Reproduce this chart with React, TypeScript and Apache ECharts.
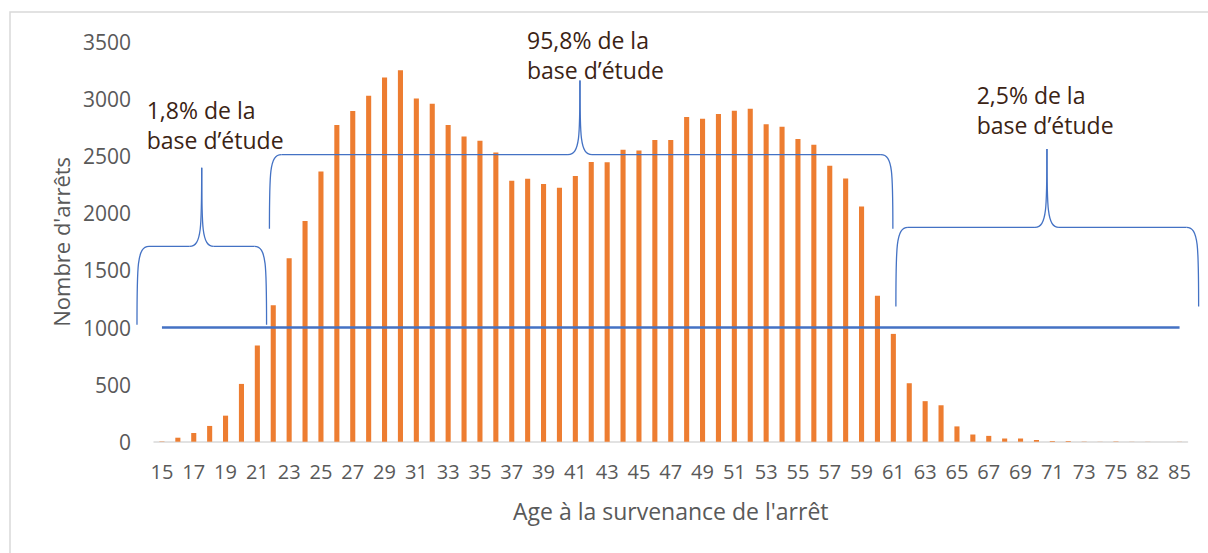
import React, { useEffect, useRef } from "react";
import * as echarts from "echarts";

const ages: string[] = [
  "15","16","17","18","19","20","21","22","23","24","25","26","27","28","29","30",
  "31","32","33","34","35","36","37","38","39","40","41","42","43","44","45","46",
  "47","48","49","50","51","52","53","54","55","56","57","58","59","60","61","62",
  "63","64","65","66","67","68","69","70","71","72","73","74","75","77","82","84","85",
];

const arrets: number[] = [
  3, 35, 76, 138, 228, 506, 842, 1195, 1606, 1932, 2366, 2773, 2895, 3030, 3190, 3252,
  3006, 2960, 2773, 2673, 2635, 2533, 2285, 2302, 2256, 2223, 2326, 2449, 2446, 2557, 2551, 2642,
  2642, 2843, 2828, 2870, 2899, 2916, 2779, 2758, 2650, 2600, 2416, 2305, 2059, 1279, 944, 512,
  355, 319, 134, 63, 51, 28, 28, 15, 6, 6, 2, 1, 3, 1, 1, 0, 1,
];

const seuil = 1000;
const seuilLine: number[] = ages.map(() => seuil);

const yTicks = { min: 0, max: 3500, interval: 500 };

const annotationTexts: string[] = [
  "1,8% de la\nbase d\u2019étude",
  "95,8% de la\nbase d\u2019étude",
  "2,5% de la\nbase d\u2019étude",
];

// brace anchors: category index (fractional) and values
const braces = [
  { left: -1.57, tip: 2.5, right: 6.58, bottom: 1023, mid: 1710, top: 2398, textX: -0.96, textY: 3035 },
  { left: 6.76, tip: 26.29, right: 45.97, bottom: 1865, mid: 2514, top: 3163, textX: 22.96, textY: 3649 },
  { left: 46.16, tip: 55.66, right: 65.2, bottom: 1184, mid: 1877, top: 2564, textX: 51.24, textY: 3163 },
];

const FONT = '"Open Sans", "Noto Sans", sans-serif';
const BLUE = "#4472C4";

export default function App() {
  const ref = useRef<HTMLDivElement>(null);
  useEffect(() => {
    if (!ref.current) return;
    const chart = echarts.init(ref.current, undefined, { renderer: "svg" });
    chart.setOption({
      animation: false,
      backgroundColor: "#ffffff",
      grid: { left: 154, right: 20.5, top: 42, bottom: 111.3, containLabel: false },
      xAxis: {
        type: "category",
        data: ages,
        boundaryGap: true,
        name: "Age à la survenance de l'arrêt",
        nameLocation: "middle",
        nameGap: 58,
        nameTextStyle: { color: "#595959", fontSize: 23, fontFamily: FONT },
        axisLine: { show: true, lineStyle: { color: "#d9d9d9", width: 1.5 } },
        axisTick: { show: false },
        axisLabel: { interval: 1, color: "#595959", fontSize: 20, fontFamily: FONT, margin: 20 },
        splitLine: { show: false },
      },
      yAxis: {
        type: "value",
        min: yTicks.min,
        max: yTicks.max,
        interval: yTicks.interval,
        name: "Nombre d'arrêts",
        nameLocation: "middle",
        nameGap: 80,
        nameRotate: 90,
        nameTextStyle: { color: "#595959", fontSize: 22, fontFamily: FONT },
        axisLine: { show: false },
        axisTick: { show: false },
        axisLabel: {
          color: "#595959",
          fontSize: 21,
          fontFamily: FONT,
          margin: 23,
          formatter: (v: number) => String(v),
        },
        splitLine: { show: false },
      },
      series: [
        {
          type: "bar",
          data: arrets,
          barWidth: "32%",
          itemStyle: { color: "#ED7D31" },
          z: 2,
        },
        {
          type: "line",
          data: seuilLine,
          showSymbol: false,
          symbol: "none",
          lineStyle: { color: BLUE, width: 2.5 },
          z: 3,
        },
      ],
    });

    const x0 = chart.convertToPixel({ xAxisIndex: 0 }, ages[0]) as number;
    const x1 = chart.convertToPixel({ xAxisIndex: 0 }, ages[1]) as number;
    const step = x1 - x0;
    const px = (i: number) => x0 + i * step;
    const py = (v: number) => chart.convertToPixel({ yAxisIndex: 0 }, v) as number;

    const elements: any[] = [
      {
        type: "rect",
        shape: { x: 10, y: 12, width: 1300, height: 700 },
        style: { fill: "none", stroke: "#d9d9d9", lineWidth: 1.5 },
        silent: true,
        z: 0,
      },
    ];
    const r = 12;
    const ls = { stroke: BLUE, lineWidth: 1.3, fill: "none" };
    braces.forEach((b, k) => {
      const xL = px(b.left);
      const xM = px(b.tip);
      const xR = px(b.right);
      const yB = py(b.bottom);
      const yH = py(b.mid);
      const yT = py(b.top);
      const h1 = yB - yH;
      const h2 = yH - yT;
      elements.push(
        { type: "bezierCurve", shape: { x1: xL, y1: yB, cpx1: xL, cpy1: yH + h1 * 0.25, cpx2: xL, cpy2: yH, x2: xL + r, y2: yH }, style: ls, z: 10 },
        { type: "line", shape: { x1: xL + r, y1: yH, x2: xM - r, y2: yH }, style: ls, z: 10 },
        { type: "bezierCurve", shape: { x1: xM - r, y1: yH, cpx1: xM, cpy1: yH, cpx2: xM, cpy2: yH - h2 * 0.25, x2: xM, y2: yT }, style: ls, z: 10 },
        { type: "bezierCurve", shape: { x1: xM, y1: yT, cpx1: xM, cpy1: yH - h2 * 0.25, cpx2: xM, cpy2: yH, x2: xM + r, y2: yH }, style: ls, z: 10 },
        { type: "line", shape: { x1: xM + r, y1: yH, x2: xR - r, y2: yH }, style: ls, z: 10 },
        { type: "bezierCurve", shape: { x1: xR - r, y1: yH, cpx1: xR, cpy1: yH, cpx2: xR, cpy2: yH + h1 * 0.25, x2: xR, y2: yB }, style: ls, z: 10 },
        {
          type: "text",
          x: px(b.textX),
          y: py(b.textY),
          style: {
            text: annotationTexts[k],
            fill: "#3B2314",
            font: `23px ${FONT}`,
            lineHeight: 30,
            textAlign: "left",
            textVerticalAlign: "top",
          },
          z: 11,
        }
      );
    });
    chart.setOption({ graphic: { elements } });

    return () => chart.dispose();
  }, []);

  return (
    <div
      ref={ref}
      style={{ position: "fixed", left: 0, top: 0, width: 1208, height: 553, background: "#fff" }}
    />
  );
}
